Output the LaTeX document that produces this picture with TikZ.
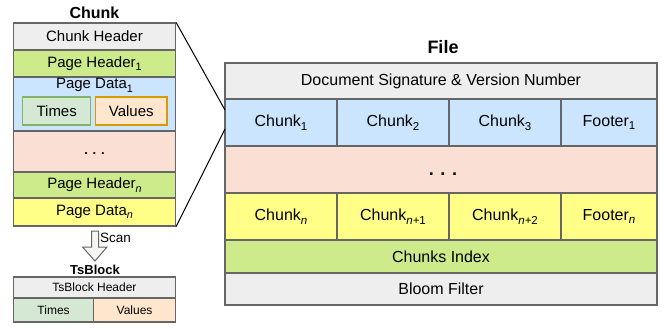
\documentclass[tikz,border=0pt]{standalone}
\usepackage{fontspec}
\setmainfont{Liberation Sans}
\usetikzlibrary{positioning}
\definecolor{lineGray}{HTML}{666666}
\definecolor{headGray}{HTML}{EEEEEE}
\definecolor{headGreen}{HTML}{CDEB8B}
\definecolor{dataBlue}{HTML}{CCE5FF}
\definecolor{dotsPink}{HTML}{FAE0D4}
\definecolor{dataYellow}{HTML}{FFFF88}
\definecolor{timesFill}{HTML}{D5E8D4}
\definecolor{timesLine}{HTML}{82B366}
\definecolor{valuesFill}{HTML}{FFE6CC}
\definecolor{valuesLine}{HTML}{D79B00}
\definecolor{scanFill}{HTML}{F7F7F2}
\newcommand{\sub}[1]{\raisebox{-0.45ex}{\fontsize{0.72em}{1em}\selectfont #1}}

\begin{document}
\begin{tikzpicture}[x=1pt, y=-1pt,
    cell/.style={draw=lineGray, line width=1.2pt, inner sep=0pt, text=black},
    chunkfont/.style={font=\fontsize{15}{17}\selectfont},
    filefont/.style={font=\fontsize{16}{18}\selectfont},
    smallfont/.style={font=\fontsize{12}{14}\selectfont},
    title/.style={font=\fontsize{#1}{#1}\selectfont\bfseries}]
    \useasboundingbox (0,0) rectangle (672,329);

    % Chunk
    \node[title=16] (chunkTitle) at (94.5,13) {Chunk};
    \node[cell, chunkfont, fill=headGray, minimum width=162, minimum height=27] (chHeader) at (94.5,36.5) {Chunk Header};
    \node[cell, chunkfont, fill=headGreen, minimum width=162, minimum height=27] (pgHeadA) at (94.5,63.5) {Page Header\sub{1}};
    \node[cell, fill=dataBlue, minimum width=162, minimum height=54,
        label={[chunkfont, anchor=north, inner sep=0pt, yshift=-2pt]north:Page Data\sub{1}}] (pgDataA) at (94.5,104) {};
    \node[cell, chunkfont, fill=timesFill, draw=timesLine, minimum width=68, minimum height=28] (times) at (56.7,111) {Times};
    \node[cell, chunkfont, fill=valuesFill, draw=valuesLine, minimum width=71.3, minimum height=28] (values) at (131.3,111) {Values};
    \node[cell, fill=dotsPink, minimum width=162, minimum height=41] (dotsA) at (94.5,151.5) {};
    \node[font=\fontsize{13}{13}\selectfont\bfseries] (dotsAText) at (94.5,154) {. . .};
    \node[cell, chunkfont, fill=headGreen, minimum width=162, minimum height=26] (pgHeadN) at (94.5,185) {Page Header\sub{\itshape n}};
    \node[cell, chunkfont, fill=dataYellow, minimum width=162, minimum height=28] (pgDataN) at (94.5,212) {Page Data\sub{\itshape n}};

    % Scan arrow
    \draw[draw=lineGray, fill=scanFill, line width=1pt]
        (91.5,231) -- (98.5,231) -- (98.5,247) -- (107,247) -- (95,261)
        -- (82.5,247) -- (91.5,247) -- cycle;
    \node[font=\fontsize{13.5}{15}\selectfont, anchor=west, inner sep=0pt] (scan) at (100,238) {Scan};

    % TsBlock
    \node[title=13] (tsTitle) at (95,269.5) {TsBlock};
    \node[cell, smallfont, fill=headGray, minimum width=162, minimum height=21] (tsHeader) at (94.5,287.5) {TsBlock Header};
    \node[cell, smallfont, fill=timesFill, minimum width=80.2, minimum height=24] (tsTimes) at (53.6,310) {Times};
    \node[cell, smallfont, fill=valuesFill, minimum width=81.8, minimum height=24] (tsValues) at (134.6,310) {Values};

    % File
    \node[title=18] (fileTitle) at (443,47) {File};
    \node[cell, filefont, fill=headGray, minimum width=432, minimum height=36] (docSig) at (441,81) {Document Signature \& Version Number};
    \node[cell, filefont, fill=dataBlue, minimum width=112, minimum height=47] (chunkA) at (281,122.5) {Chunk\sub{1}};
    \node[cell, filefont, fill=dataBlue, minimum width=112, minimum height=47] (chunkB) at (393,122.5) {Chunk\sub{2}};
    \node[cell, filefont, fill=dataBlue, minimum width=112, minimum height=47] (chunkC) at (505,122.5) {Chunk\sub{3}};
    \node[cell, filefont, fill=dataBlue, minimum width=96, minimum height=47] (footA) at (609,122.5) {Footer\sub{1}};
    \node[cell, fill=dotsPink, minimum width=432, minimum height=47] (dotsB) at (441,169.5) {};
    \node[font=\fontsize{18}{18}\selectfont\bfseries] (dotsBText) at (443,174) {. . .};
    \node[cell, filefont, fill=dataYellow, minimum width=112, minimum height=47] (chunkN) at (281,216.5) {Chunk\sub{\itshape n}};
    \node[cell, filefont, fill=dataYellow, minimum width=112, minimum height=47] (chunkNA) at (393,216.5) {Chunk\sub{\itshape n\upshape +1}};
    \node[cell, filefont, fill=dataYellow, minimum width=112, minimum height=47] (chunkNB) at (505,216.5) {Chunk\sub{\itshape n\upshape +2}};
    \node[cell, filefont, fill=dataYellow, minimum width=96, minimum height=47] (footN) at (609,216.5) {Footer\sub{\itshape n}};
    \node[cell, filefont, fill=headGreen, minimum width=432, minimum height=33] (chIndex) at (441,256.5) {Chunks Index};
    \node[cell, filefont, fill=headGray, minimum width=432, minimum height=32] (bloom) at (441,289) {Bloom Filter};

    % zoom lines
    \coordinate (zoomTop) at (225,110);
    \coordinate (zoomBot) at (225,129);
    \draw[line width=1pt] (chHeader.north east) -- (zoomTop);
    \draw[line width=1pt] (pgDataN.south east) -- (zoomBot);
\end{tikzpicture}
\end{document}
